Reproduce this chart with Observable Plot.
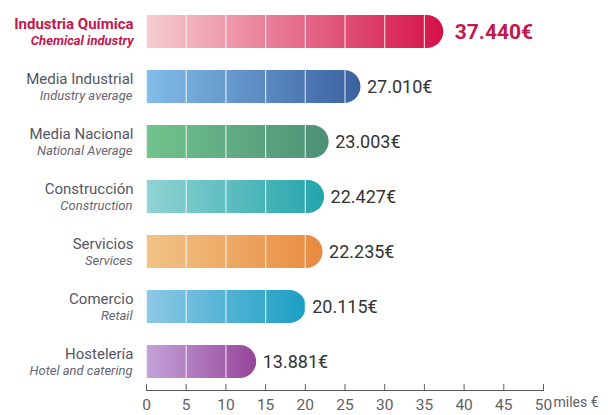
<!DOCTYPE html>
<html>
<head>
<meta charset="utf-8">
<script src="https://cdn.jsdelivr.net/npm/d3@7"></script>
<script src="https://cdn.jsdelivr.net/npm/@observablehq/plot@0.6"></script>
<style>
  body { margin: 0; background: #ffffff; overflow: hidden; }
  #chart svg { display: block; overflow: visible; }
</style>
</head>
<body>
<div id="chart"></div>
<script>
// ---- data ----
const categories = ["Industria Química", "Media Industrial", "Media Nacional", "Construcción", "Servicios", "Comercio", "Hostelería"];
const categoriesEn = ["Chemical industry", "Industry average", "National Average", "Construction", "Services", "Retail", "Hotel and catering"];
const salaries = [37440, 27010, 23003, 22427, 22235, 20115, 13881];
const xTicks = [0, 5, 10, 15, 20, 25, 30, 35, 40, 45, 50];
const unitTick = [50];
const axisUnit = "miles €";
const highlight = "Industria Química";

// ---- colours ----
const gradientStart = ["#f7cdd1", "#82bde9", "#72c38c", "#92d3d3", "#f1c487", "#8ec8e6", "#c4a3d9"];
const gradientEnd   = ["#d4104a", "#3a60a0", "#4c9077", "#22a4ab", "#e98a40", "#1a9ec3", "#964499"];

const locale = d3.formatLocale({decimal: ",", thousands: ".", grouping: [3], currency: ["", "€"]});
const fmt = locale.format("$,");

const rows = categories.map((c, i) => ({
  cat: c, en: categoriesEn[i], v: salaries[i] / 1000, label: fmt(salaries[i]), i
}));

function gradients() {
  const defs = d3.create("svg:defs");
  rows.forEach((d, i) => {
    const g = defs.append("linearGradient")
      .attr("id", `salgrad${i}`)
      .attr("x1", 0).attr("x2", 1).attr("y1", 0).attr("y2", 0);
    g.append("stop").attr("offset", 0).attr("stop-color", gradientStart[i]);
    g.append("stop").attr("offset", 1).attr("stop-color", gradientEnd[i]);
  });
  return defs.node();
}

const isHi = d => d.cat === highlight;
const normal = rows.filter(d => !isHi(d));
const hi = rows.filter(isHi);

const chart = Plot.plot({
  width: 608,
  height: 415,
  marginLeft: 146,
  marginRight: 65,
  marginTop: 2,
  marginBottom: 25,
  style: {fontFamily: "Roboto, 'DejaVu Sans', sans-serif", background: "#ffffff"},
  x: {domain: [0, 50], label: null},
  y: {domain: categories, axis: null, paddingInner: 0.4, paddingOuter: 0.2},
  color: {type: "identity"},
  marks: [
    gradients,
    Plot.barX(rows, {x: "v", y: "cat", fill: d => `url(#salgrad${d.i})`, rx2: 16.5}),
    Plot.gridX(xTicks, {stroke: "#ffffff", strokeOpacity: 0.75, strokeWidth: 1.2}),
    Plot.frame({anchor: "bottom", stroke: "#5a5a5a"}),
    Plot.axisX(xTicks, {label: null, tickSize: -6, tickPadding: 14, fontSize: 15.5, color: "#5f5f5f"}),
    Plot.text(unitTick, {x: d => d, frameAnchor: "bottom", dx: 10, dy: 16, textAnchor: "start", text: () => axisUnit, fontSize: 14, fill: "#5f5f5f"}),
    // left labels
    Plot.text(normal, {y: "cat", frameAnchor: "left", dx: -13, dy: -8, textAnchor: "end", text: "cat", fontSize: 15, fill: "#555565"}),
    Plot.text(normal, {y: "cat", frameAnchor: "left", dx: -14, dy: 8.5, textAnchor: "end", text: "en", fontSize: 13, fontStyle: "italic", fill: "#666677"}),
    Plot.text(hi, {y: "cat", frameAnchor: "left", dx: -13, dy: -8, textAnchor: "end", text: "cat", fontSize: 15, fontWeight: "bold", fill: "#c4174d"}),
    Plot.text(hi, {y: "cat", frameAnchor: "left", dx: -13, dy: 8.5, textAnchor: "end", text: "en", fontSize: 13, fontStyle: "italic", fontWeight: "bold", fill: "#c4174d"}),
    // values
    Plot.text(normal, {x: "v", y: "cat", dx: 6, textAnchor: "start", text: "label", fontSize: 18, fill: "#333333"}),
    Plot.text(hi, {x: "v", y: "cat", dx: 11, textAnchor: "start", text: "label", fontSize: 21, fontWeight: "bold", fill: "#c4174d"})
  ]
});

document.getElementById("chart").appendChild(chart);
</script>
</body>
</html>
